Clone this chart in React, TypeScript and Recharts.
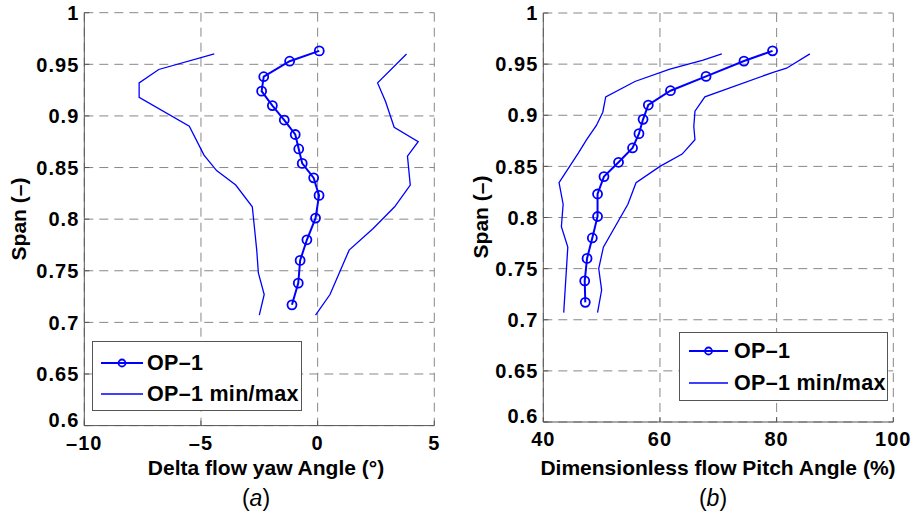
import { LineChart, Line, XAxis, YAxis, CartesianGrid, Legend } from 'recharts'

// span positions of the OP-1 mean traverse points
const spans = [0.963, 0.953, 0.938, 0.924, 0.91, 0.896, 0.882, 0.868, 0.854, 0.84, 0.823, 0.801, 0.78, 0.76, 0.738, 0.717]
const yawMean = [0.07, -1.2, -2.31, -2.4, -1.94, -1.43, -0.96, -0.81, -0.66, -0.17, 0.06, -0.09, -0.46, -0.75, -0.83, -1.1]
const pitchMean = [79.3, 74.4, 67.9, 61.8, 58.0, 57.1, 56.4, 55.3, 52.9, 50.4, 49.3, 49.3, 48.4, 47.5, 47.1, 47.2]

// min / max envelopes
const yawMinSpan = [0.96, 0.945, 0.932, 0.918, 0.89, 0.862, 0.847, 0.833, 0.812, 0.77, 0.748, 0.727, 0.707]
const yawMin = [-4.43, -6.81, -7.65, -7.65, -5.5, -4.87, -4.33, -3.51, -2.8, -2.61, -2.54, -2.29, -2.5]
const yawMaxSpan = [0.96, 0.932, 0.914, 0.889, 0.875, 0.861, 0.833, 0.812, 0.791, 0.77, 0.727, 0.707]
const yawMax = [3.81, 2.57, 2.91, 3.28, 4.31, 3.85, 3.97, 3.3, 2.38, 1.35, 0.53, -0.09]

const pitchMinSpan = [0.96, 0.954, 0.945, 0.933, 0.918, 0.903, 0.89, 0.876, 0.863, 0.834, 0.813, 0.791, 0.771, 0.707]
const pitchMin = [70.6, 67.4, 61.7, 55.7, 50.7, 50.2, 49.1, 47.4, 46.0, 42.7, 43.4, 43.1, 44.2, 43.5]
const pitchMaxSpan = [0.96, 0.946, 0.942, 0.918, 0.904, 0.889, 0.876, 0.862, 0.85, 0.834, 0.813, 0.771, 0.75, 0.729, 0.707]
const pitchMax = [85.7, 81.7, 79.4, 67.7, 66.0, 65.8, 66.0, 63.8, 60.0, 55.9, 54.5, 50.3, 49.5, 50.0, 49.3]

const spanTicks = [0.6, 0.65, 0.7, 0.75, 0.8, 0.85, 0.9, 0.95, 1]
const yawTicks = [-10, -5, 0, 5]
const pitchTicks = [40, 60, 80, 100]

const BLUE = '#0000ff'
const AXIS = '#555'
const FONT = '"Liberation Sans", Arial, Helvetica, sans-serif'
const FS = 21
const TICK_FS = 20
const TICK_IN = 5
const X_MARGIN = 10

const toPoints = (xs: number[], ys: number[]) => xs.map((x, i) => ({ x, y: ys[i] }))
const dash = (v: number) => String(v).replace('-', '\u2013')

const BottomTick = ({ x, y, payload }: any) => (
  <g>
    <line x1={x} x2={x} y1={y - X_MARGIN} y2={y - X_MARGIN - TICK_IN} stroke={AXIS} />
    <text x={x} y={y} dy="0.7em" textAnchor="middle" fontFamily={FONT} fontSize={TICK_FS} fontWeight="bold" letterSpacing={1} fill="#000">
      {dash(payload.value)}
    </text>
  </g>
)
const LeftTick = ({ x, y, payload, index }: any) => (
  <g>
    <line x1={x + 5} x2={x + 5 + TICK_IN} y1={y} y2={y} stroke={AXIS} />
    {/* lowest label sits a little higher so it clears the x tick label below it */}
    <text x={x} y={index === 0 ? y - 6 : y} dy="0.36em" textAnchor="end" fontFamily={FONT} fontSize={TICK_FS} fontWeight="bold" letterSpacing={1} fill="#000">
      {String(payload.value)}
    </text>
  </g>
)
const TopTick = ({ x, y }: any) => <line x1={x} x2={x} y1={y} y2={y + TICK_IN} stroke={AXIS} />
const RightTick = ({ x, y }: any) => <line x1={x} x2={x - TICK_IN} y1={y} y2={y} stroke={AXIS} />

const LegendBox = ({ w, h, rows, line, text }: any) => (
  <div
    style={{
      width: w,
      height: h,
      border: `1px solid ${AXIS}`,
      background: '#fff',
      position: 'relative',
      boxSizing: 'border-box',
      fontFamily: FONT,
      fontWeight: 'bold',
      fontSize: 21.5,
      letterSpacing: 0.3,
    }}
  >
    {[
      { label: 'OP\u20131', marker: true },
      { label: 'OP\u20131 min/max', marker: false },
    ].map((r, i) => (
      <div key={i} style={{ position: 'absolute', left: 0, top: rows[i] - 12, height: 24, width: '100%' }}>
        <svg width={line[1] + 2} height={24} style={{ position: 'absolute', left: 0, top: 0 }}>
          <line x1={line[0]} x2={line[1]} y1={12} y2={12} stroke={BLUE} strokeWidth={r.marker ? 2 : 1.3} />
          {r.marker && <circle cx={(line[0] + line[1]) / 2} cy={12} r={3.5} fill="none" stroke={BLUE} strokeWidth={1.8} />}
        </svg>
        <span style={{ position: 'absolute', left: text, top: 0, lineHeight: '24px', whiteSpace: 'nowrap' }}>{r.label}</span>
      </div>
    ))}
  </div>
)

interface PanelProps {
  width: number
  margin: { top: number; right: number; left: number; bottom: number }
  yWidth: number
  xHeight: number
  xDomain: [number, number]
  xTicks: number[]
  mean: number[]
  min: { x: number; y: number }[]
  max: { x: number; y: number }[]
  legendPos: { left: number; top: number }
  legend: any
}

function Panel({ width, margin, yWidth, xHeight, xDomain, xTicks, mean, min, max, legendPos, legend }: PanelProps) {
  const meanPts = toPoints(mean, spans)
  return (
    <LineChart width={width} height={517} margin={margin}>
      <CartesianGrid stroke="#888" strokeDasharray="9 6" />
      <XAxis
        dataKey="x"
        type="number"
        domain={xDomain}
        ticks={xTicks}
        allowDataOverflow
        height={xHeight}
        tickSize={0}
        tickMargin={X_MARGIN}
        tick={BottomTick}
        stroke={AXIS}
      />
      <XAxis xAxisId="top" orientation="top" dataKey="x" type="number" domain={xDomain} ticks={xTicks} allowDataOverflow height={0} tickSize={0} tickMargin={0} tick={TopTick} stroke={AXIS} />
      <YAxis
        type="number"
        domain={[0.6, 1]}
        ticks={spanTicks}
        allowDataOverflow
        width={yWidth}
        tickSize={0}
        tickMargin={5}
        tick={LeftTick}
        stroke={AXIS}
      />
      <YAxis yAxisId="right" orientation="right" type="number" domain={[0.6, 1]} ticks={spanTicks} allowDataOverflow width={0} tickSize={0} tickMargin={0} tick={RightTick} stroke={AXIS} />
      <Line data={min} dataKey="y" stroke={BLUE} strokeWidth={1.3} dot={false} isAnimationActive={false} />
      <Line data={max} dataKey="y" stroke={BLUE} strokeWidth={1.3} dot={false} isAnimationActive={false} />
      <Line
        data={meanPts}
        dataKey="y"
        stroke={BLUE}
        strokeWidth={2}
        dot={{ r: 4.5, fill: 'none', stroke: BLUE, strokeWidth: 1.8 }}
        isAnimationActive={false}
      />
      <Legend
        layout="horizontal"
        verticalAlign="middle"
        align="center"
        wrapperStyle={{ left: legendPos.left, top: legendPos.top, width: 'auto' }}
        content={() => <LegendBox {...legend} />}
      />
    </LineChart>
  )
}

export default function App() {
  const titleStyle = { fontFamily: FONT, fontSize: FS, fontWeight: 'bold' as const, fill: '#000' }
  const capStyle = { fontFamily: FONT, fontSize: 23, fill: '#000' }
  return (
    <div style={{ position: 'absolute', left: 0, top: 0, width: 912, height: 517, background: '#fff', overflow: 'hidden' }}>
      <div style={{ position: 'absolute', left: 0, top: 0 }}>
        <Panel
          width={450}
          margin={{ top: 12.7, right: 15.7, left: 0, bottom: 0 }}
          yWidth={84.3}
          xHeight={517 - 425.6}
          xDomain={[-10, 5]}
          xTicks={yawTicks}
          mean={yawMean}
          min={toPoints(yawMin, yawMinSpan)}
          max={toPoints(yawMax, yawMaxSpan)}
          legendPos={{ left: 92, top: 341 }}
          legend={{ w: 210, h: 70, rows: [21, 52], line: [8, 50], text: 54 }}
        />
      </div>
      <div style={{ position: 'absolute', left: 450, top: 0 }}>
        <Panel
          width={462}
          margin={{ top: 13, right: 18.7, left: 0, bottom: 0 }}
          yWidth={93.3}
          xHeight={517 - 422}
          xDomain={[40, 100]}
          xTicks={pitchTicks}
          mean={pitchMean}
          min={toPoints(pitchMin, pitchMinSpan)}
          max={toPoints(pitchMax, pitchMaxSpan)}
          legendPos={{ left: 229, top: 332 }}
          legend={{ w: 209, h: 69, rows: [18, 50], line: [9, 48], text: 54 }}
        />
      </div>
      <svg width={912} height={517} style={{ position: 'absolute', left: 0, top: 0, pointerEvents: 'none' }}>
        <text x={18} y={219} dy="0.36em" textAnchor="middle" transform="rotate(-90 18 219)" {...titleStyle}>
          Span (–)
        </text>
        <text x={480} y={217} dy="0.36em" textAnchor="middle" transform="rotate(-90 480 217)" {...titleStyle}>
          Span (–)
        </text>
        <text x={266} y={474.5} textAnchor="middle" {...titleStyle}>
          Delta flow yaw Angle (°)
        </text>
        <text x={718} y={474.5} textAnchor="middle" {...titleStyle}>
          Dimensionless flow Pitch Angle (%)
        </text>
        <text x={256} y={506} textAnchor="middle" {...capStyle}>
          (<tspan fontStyle="italic">a</tspan>)
        </text>
        <text x={713} y={506} textAnchor="middle" {...capStyle}>
          (<tspan fontStyle="italic">b</tspan>)
        </text>
      </svg>
    </div>
  )
}
